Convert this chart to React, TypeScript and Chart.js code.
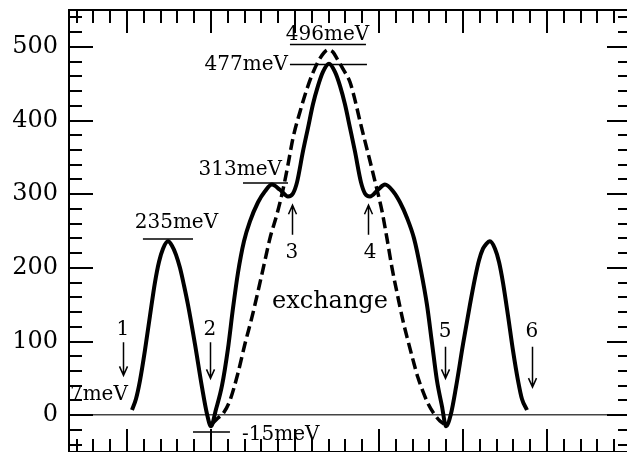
import React, { useEffect, useRef } from "react";
import { Chart, registerables } from "chart.js";

Chart.register(...registerables);

// Solid curve: energy profile (reaction coordinate, meV)
const solidX = [
  1.06, 1.107, 1.155, 1.214, 1.274, 1.333, 1.381, 1.429, 1.488, 1.536, 1.583, 1.631, 1.679, 1.726, 1.81,
  1.893, 1.952, 2.0, 2.06, 2.131, 2.202, 2.262, 2.321, 2.393, 2.464, 2.56, 2.643, 2.726, 2.821, 2.917,
  2.976, 3.024, 3.095, 3.155, 3.214, 3.274, 3.333, 3.405, 3.476, 3.536, 3.595, 3.655, 3.714, 3.786,
  3.833, 3.893, 3.988, 4.071, 4.167, 4.25, 4.333, 4.417, 4.5, 4.571, 4.631, 4.69, 4.75, 4.798, 4.857,
  4.917, 5.0, 5.083, 5.143, 5.19, 5.238, 5.274, 5.321, 5.381, 5.429, 5.476, 5.536, 5.595, 5.655, 5.702,
  5.762,
];
const solidY = [
  7, 22, 47, 88, 135, 180, 208, 226, 236, 230, 218, 200, 176, 150, 96,
  38, 2, -15, 8, 40, 90, 145, 193, 236, 263, 289, 304, 313, 306, 297,
  301, 316, 358, 390, 422, 447, 466, 477, 466, 447, 422, 390, 358, 316,
  301, 297, 306, 313, 304, 289, 268, 240, 196, 150, 98, 47, 12, -15, 2,
  38, 96, 150, 186, 210, 226, 232, 236, 226, 208, 180, 135, 88, 47, 22,
  7,
];

// Dashed curve: "exchange"
const dashX = [
  2.012, 2.083, 2.155, 2.226, 2.321, 2.405, 2.488, 2.56, 2.631, 2.702, 2.786, 2.857, 2.917, 2.976, 3.06,
  3.143, 3.214, 3.286, 3.345, 3.393, 3.452, 3.5, 3.571, 3.655, 3.714, 3.774, 3.833, 3.893, 3.964, 4.036,
  4.095, 4.155, 4.226, 4.286, 4.345, 4.405, 4.464, 4.524, 4.583, 4.655, 4.726, 4.774,
];
const dashY = [
  -12, -4, 4, 20, 57, 97, 133, 168, 204, 240, 273, 306, 340, 376, 412,
  443, 465, 482, 492, 496, 493, 484, 470, 452, 428, 399, 372, 345, 312, 277,
  240, 200, 160, 128, 101, 75, 51, 32, 16, 2, -8, -12,
];

const yTickValues = [0, 100, 200, 300, 400, 500];

// Level markers (horizontal bars)
const levelY = [503, 476, 315, 239, -23];
const levelX0 = [2.94, 2.94, 2.381, 1.19, 1.786];
const levelX1 = [3.845, 3.857, 2.917, 1.786, 2.226];

// Text annotations
const labelTexts = ["496meV", "477meV", "313meV", "235meV", "7meV", "-15meV", "exchange"];
const labelX = [3.387, 2.917, 2.845, 1.589, 0.321, 2.369, 2.726];
const labelY = [509, 469, 326, 254, 21, -34, 146];
const labelAlign: CanvasTextAlign[] = ["center", "right", "right", "center", "left", "left", "left"];
const labelSize = [20, 20, 20, 20, 20, 20, 24];

// Numbered arrows
const pointNames = ["1", "2", "3", "4", "5", "6"];
const pointNameX = [0.952, 1.988, 2.964, 3.893, 4.786, 5.821];
const pointNameY = [109, 109, 213, 213, 106, 106];
const arrowX = [0.952, 1.988, 2.964, 3.869, 4.786, 5.821];
const arrowFrom = [99, 99, 245, 245, 93, 93];
const arrowTo = [54, 50, 285, 285, 50, 38];

const FONT = "'DejaVu Serif'";

const decor = {
  id: "decor",
  afterDatasetsDraw(chart: any) {
    const { ctx, chartArea: a, scales } = chart;
    const x = scales.x;
    const y = scales.y;
    ctx.save();
    ctx.strokeStyle = "#000";
    ctx.fillStyle = "#000";
    ctx.lineCap = "butt";

    // frame
    ctx.lineWidth = 2;
    ctx.strokeRect(a.left, a.top, a.right - a.left, a.bottom - a.top);

    // x ticks (top & bottom, inward)
    const kx0 = Math.ceil(x.min * 5 - 1e-6);
    const kx1 = Math.floor(x.max * 5 + 1e-6);
    ctx.beginPath();
    for (let k = kx0; k <= kx1; k++) {
      const px = Math.round(x.getPixelForValue(k / 5));
      const len = k % 5 === 0 ? 23 : 13;
      ctx.moveTo(px, a.top);
      ctx.lineTo(px, a.top + len);
      ctx.moveTo(px, a.bottom);
      ctx.lineTo(px, a.bottom - len);
    }
    // y ticks (left & right, inward)
    const ky0 = Math.ceil(y.min / 20);
    const ky1 = Math.floor(y.max / 20);
    for (let k = ky0; k <= ky1; k++) {
      const v = k * 20;
      const py = Math.round(y.getPixelForValue(v));
      const len = v % 100 === 0 ? 24 : 13;
      ctx.moveTo(a.left, py);
      ctx.lineTo(a.left + len, py);
      ctx.moveTo(a.right, py);
      ctx.lineTo(a.right - len, py);
    }
    ctx.stroke();

    // text labels
    ctx.textBaseline = "alphabetic";
    for (let i = 0; i < labelTexts.length; i++) {
      ctx.font = `${labelSize[i]}px ${FONT}`;
      ctx.textAlign = labelAlign[i];
      ctx.fillText(labelTexts[i], x.getPixelForValue(labelX[i]), y.getPixelForValue(labelY[i]));
    }
    ctx.font = `20px ${FONT}`;
    ctx.textAlign = "center";
    for (let i = 0; i < pointNames.length; i++) {
      ctx.fillText(pointNames[i], x.getPixelForValue(pointNameX[i]), y.getPixelForValue(pointNameY[i]));
    }

    // arrows
    ctx.lineWidth = 1.5;
    for (let i = 0; i < arrowX.length; i++) {
      const px = Math.round(x.getPixelForValue(arrowX[i])) + 0.5;
      const y0 = y.getPixelForValue(arrowFrom[i]);
      const y1 = y.getPixelForValue(arrowTo[i]);
      const dir = y1 > y0 ? 1 : -1;
      ctx.beginPath();
      ctx.moveTo(px, y0);
      ctx.lineTo(px, y1);
      ctx.moveTo(px - 4, y1 - dir * 9);
      ctx.lineTo(px, y1);
      ctx.lineTo(px + 4, y1 - dir * 9);
      ctx.stroke();
    }
    ctx.restore();
  },
};

export default function App() {
  const ref = useRef<HTMLCanvasElement>(null);

  useEffect(() => {
    const canvas = ref.current;
    if (!canvas) return;
    const levelSets = levelY.map((v, i) => ({
      data: [
        { x: levelX0[i], y: v },
        { x: levelX1[i], y: v },
      ],
      borderColor: "#000",
      borderWidth: 1.5,
      pointRadius: 0,
      tension: 0,
    }));
    const chart = new Chart(canvas, {
      type: "line",
      data: {
        datasets: [
          {
            data: solidX.map((v, i) => ({ x: v, y: solidY[i] })),
            borderColor: "#000",
            borderWidth: 4,
            pointRadius: 0,
            cubicInterpolationMode: "monotone",
          },
          {
            data: dashX.map((v, i) => ({ x: v, y: dashY[i] })),
            borderColor: "#000",
            borderWidth: 3.5,
            borderDash: [11, 5],
            pointRadius: 0,
            cubicInterpolationMode: "monotone",
          },
          ...levelSets,
        ] as any,
      },
      options: {
        responsive: false,
        animation: false,
        events: [],
        layout: { padding: { left: 0, top: 10, right: 9, bottom: 18 } },
        plugins: { legend: { display: false }, tooltip: { enabled: false } },
        scales: {
          x: { type: "linear", min: 0.31, max: 7, display: false },
          y: {
            type: "linear",
            min: -50,
            max: 550,
            afterBuildTicks: (scale: any) => {
              scale.ticks = yTickValues.map((v) => ({ value: v }));
            },
            afterFit: (scale: any) => {
              scale.width = 69;
              scale.paddingTop = 0;
              scale.paddingBottom = 0;
            },
            ticks: {
              color: "#000",
              padding: 11,
              font: { family: "DejaVu Serif", size: 24 },
            },
            grid: {
              drawTicks: false,
              lineWidth: 1.5,
              color: (c: any) => (c.tick && c.tick.value === 0 ? "#444" : "rgba(0,0,0,0)"),
            },
            border: { display: true, color: "#000", width: 2 },
          },
        },
      },
      plugins: [decor],
    });
    return () => chart.destroy();
  }, []);

  return (
    <div
      style={{
        position: "fixed",
        left: 0,
        top: 0,
        width: 627,
        height: 452,
        overflow: "hidden",
        background: "#fff",
      }}
    >
      <canvas ref={ref} width={640} height={470} style={{ display: "block", width: 640, height: 470 }} />
    </div>
  );
}
